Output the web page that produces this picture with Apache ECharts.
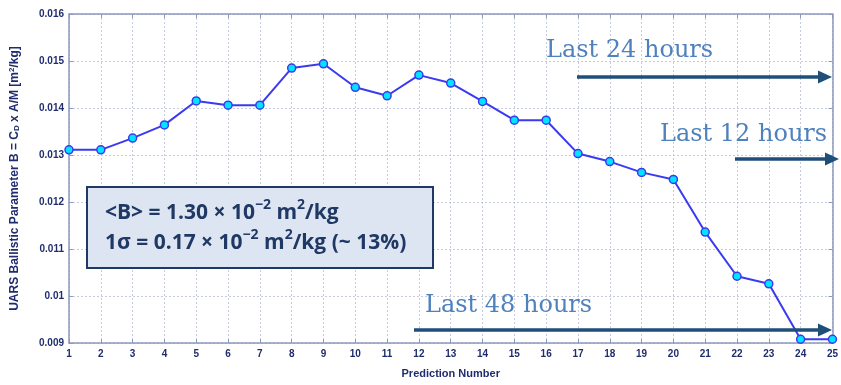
<!DOCTYPE html>
<html><head><meta charset="utf-8">
<script src="https://cdn.jsdelivr.net/npm/echarts@6/dist/echarts.min.js"></script>
<style>html,body{margin:0;padding:0;background:#fff}#c{width:841px;height:385px}</style>
</head><body><div id="c"></div>
<script>
const predictions = ['1','2','3','4','5','6','7','8','9','10','11','12','13','14','15','16','17','18','19','20','21','22','23','24','25'];
const ballistic = [0.01311,0.01311,0.01336,0.01364,0.01415,0.01406,0.01406,0.01485,0.01494,0.01444,0.01426,0.01470,0.01453,0.01414,0.01374,0.01374,0.01303,0.01286,0.01263,0.01248,0.01136,0.01042,0.01026,0.00908,0.00908];
const statLines = ['{b|<B> = 1.30 × 10}{s|−2}{b| m}{s|2}{b|/kg}', '{b|1σ = 0.17 × 10}{s|−2}{b| m}{s|2}{b|/kg (~ 13%)}'];
const windowLabels = ['Last 24 hours', 'Last 12 hours', 'Last 48 hours'];

const navy = '#1f2d6e';
const axisCol = '#8d98bd';
const gridCol = '#c5cbdc';
const arrowCol = '#1f4e79';
const txtBlue = '#4f81bd';
const boxTxt = '#1f3864';

const chart = echarts.init(document.getElementById('c'));
function arrow(x1, x2, y) {
  return [
    {type:'line', shape:{x1:x1, y1:y, x2:x2-12, y2:y}, style:{stroke:arrowCol, lineWidth:3.5}, z:50},
    {type:'polygon', shape:{points:[[x2-14,y-6.5],[x2,y],[x2-14,y+6.5]]}, style:{fill:arrowCol}, z:50}
  ];
}
const boxRich = {
  b:{fill:boxTxt, fontFamily:'Open Sans', fontWeight:'bold', fontSize:21, verticalAlign:'bottom', lineHeight:26},
  s:{fill:boxTxt, fontFamily:'Open Sans', fontWeight:'bold', fontSize:14, verticalAlign:'top', lineHeight:24}
};
chart.setOption({
  animation:false,
  grid:{left:67, right:5, top:14, bottom:42, show:false},
  xAxis:[{
    type:'category', data:predictions, boundaryGap:false,
    name:'Prediction Number', nameLocation:'middle', nameGap:25,
    nameTextStyle:{color:navy, fontFamily:'Liberation Sans', fontWeight:'bold', fontSize:11},
    axisLine:{lineStyle:{color:axisCol, width:1.5}},
    axisTick:{inside:true, length:4, lineStyle:{color:axisCol}},
    axisLabel:{color:navy, fontFamily:'Liberation Sans', fontWeight:'bold', fontSize:10, margin:6},
    splitLine:{show:true, lineStyle:{color:gridCol, type:[2,2], width:1}}
  },{
    type:'category', data:predictions, boundaryGap:false, position:'top',
    axisLine:{lineStyle:{color:axisCol, width:1.5}},
    axisTick:{inside:true, length:4, lineStyle:{color:axisCol}},
    axisLabel:{show:false}, splitLine:{show:false}
  }],
  yAxis:[{
    type:'value', min:0.009, max:0.016, interval:0.001,
    name:'{a|UARS Ballistic Parameter B = C}{s|D}{a| x A/M [m}{p|2}{a|/kg]}',
    nameLocation:'middle', nameGap:48, nameRotate:90,
    nameTextStyle:{color:navy, rich:{
      a:{color:navy, fontFamily:'Liberation Sans', fontWeight:'bold', fontSize:12, verticalAlign:'middle'},
      s:{color:navy, fontFamily:'Liberation Sans', fontWeight:'bold', fontSize:8, verticalAlign:'bottom', padding:[5,0,0,0]},
      p:{color:navy, fontFamily:'Liberation Sans', fontWeight:'bold', fontSize:8, verticalAlign:'top', padding:[0,0,5,0]}
    }},
    axisLine:{show:true, lineStyle:{color:axisCol, width:1.5}},
    axisTick:{show:true, inside:true, length:4, lineStyle:{color:axisCol}},
    axisLabel:{color:navy, fontFamily:'Liberation Sans', fontWeight:'bold', fontSize:10, margin:5,
      formatter:v=>String(+v.toFixed(3))},
    splitLine:{show:true, lineStyle:{color:gridCol, type:[2,2], width:1}}
  },{
    type:'value', min:0.009, max:0.016, interval:0.001, position:'right',
    axisLine:{show:true, lineStyle:{color:axisCol, width:1.5}},
    axisTick:{show:true, inside:true, length:4, lineStyle:{color:axisCol}},
    axisLabel:{show:false}, splitLine:{show:false}
  }],
  series:[{
    type:'line', data:ballistic, symbol:'circle', symbolSize:8,
    lineStyle:{color:'#3a3af0', width:2},
    itemStyle:{color:'#00e5ff', borderColor:'#3a3af0', borderWidth:1.5},
    z:10
  }],
  graphic:[
    {type:'rect', shape:{x:87, y:187, width:346, height:81}, style:{fill:'#dce5f1', stroke:'#1f3864', lineWidth:2}, z:40},
    {type:'text', x:105, y:211, style:{text:statLines[0], rich:boxRich, textVerticalAlign:'middle'}, z:41},
    {type:'text', x:105, y:241, style:{text:statLines[1], rich:boxRich, textVerticalAlign:'middle'}, z:41},
    {type:'text', x:546, y:51, style:{text:windowLabels[0], fill:txtBlue, font:'24px "DejaVu Serif"', textVerticalAlign:'middle'}, z:41},
    {type:'text', x:660, y:135, style:{text:windowLabels[1], fill:txtBlue, font:'24px "DejaVu Serif"', textVerticalAlign:'middle'}, z:41},
    {type:'text', x:425, y:306, style:{text:windowLabels[2], fill:txtBlue, font:'24px "DejaVu Serif"', textVerticalAlign:'middle'}, z:41},
    ...arrow(577, 832, 77),
    ...arrow(735, 839, 159),
    ...arrow(414, 832, 330)
  ]
});
</script></body></html>
